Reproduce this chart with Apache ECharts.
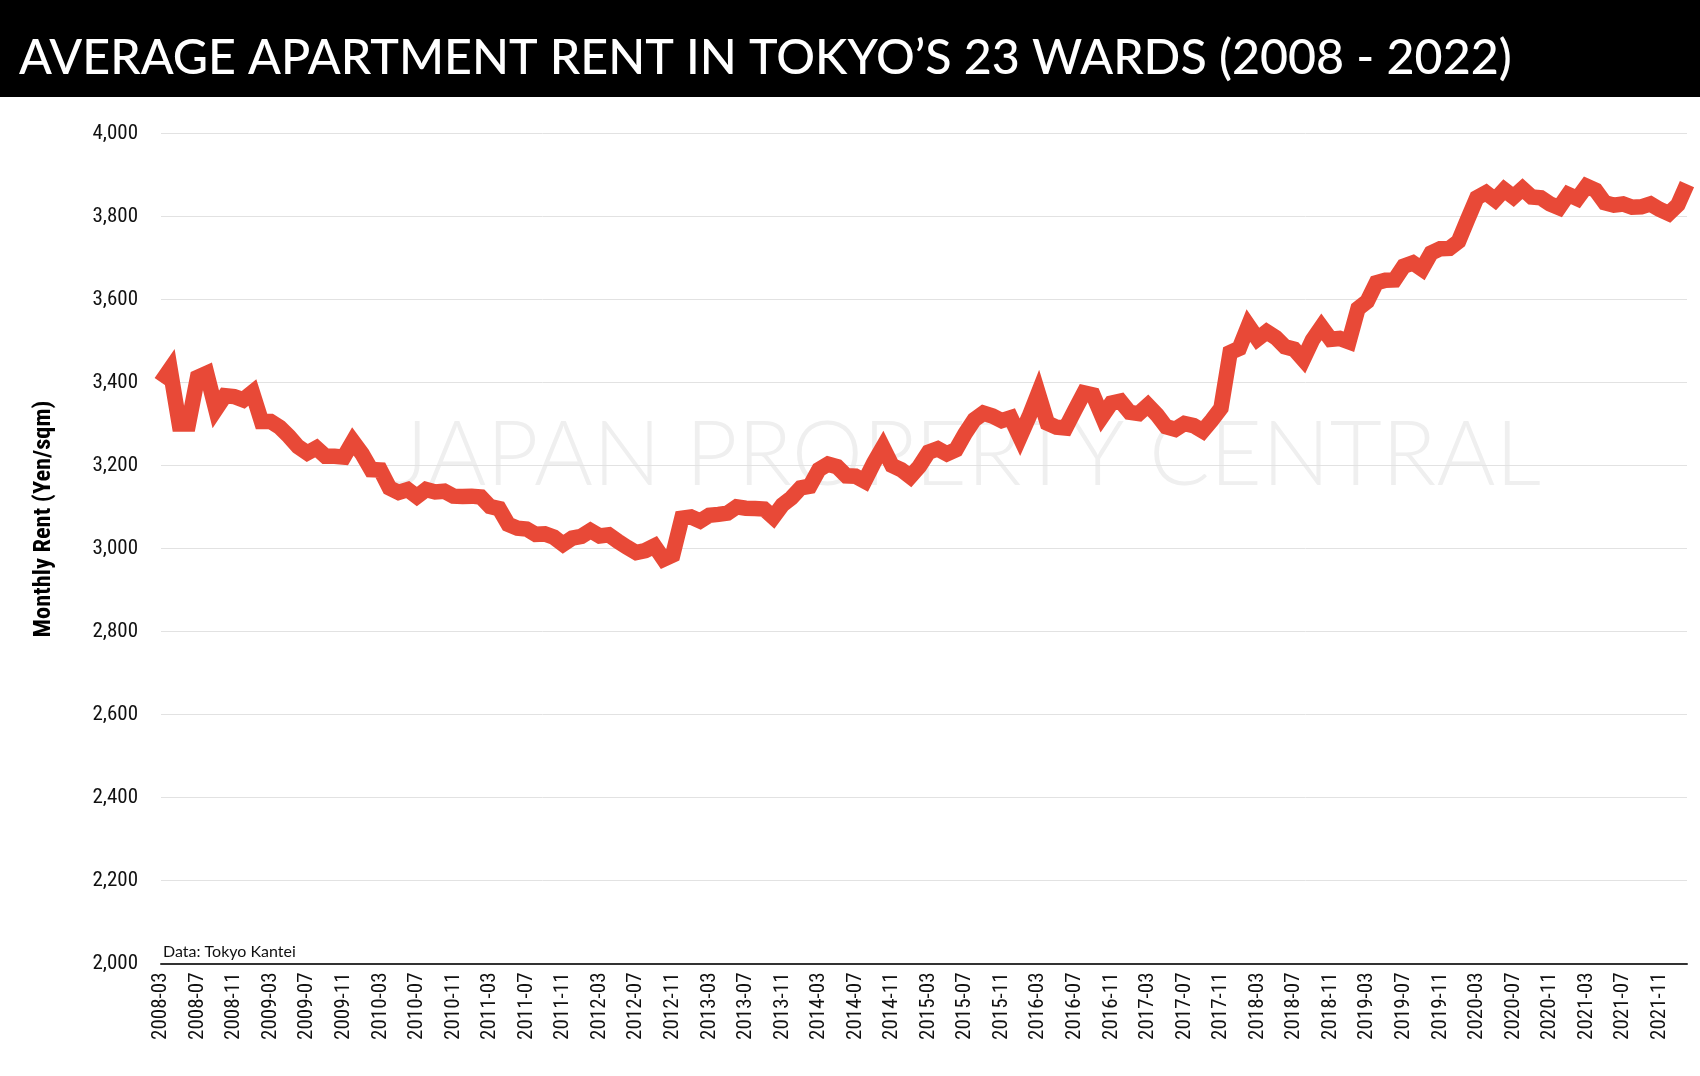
<!DOCTYPE html>
<html>
<head>
<meta charset="utf-8">
<script src="https://cdn.jsdelivr.net/npm/echarts@6/dist/echarts.min.js"></script>
<style>
html,body{margin:0;padding:0;background:#fff;}
#chart{width:1700px;height:1076px;}
</style>
</head>
<body>
<div id="chart"></div>
<script>
// ---- DATA ----
const startYear = 2008, startMonth = 3, monthCount = 168; // 2008-03 .. 2022-02
const months = [];
for (let k = 0; k < monthCount; k++) {
  const m = startMonth - 1 + k;
  const y = startYear + Math.floor(m / 12);
  const mm = (m % 12) + 1;
  months.push(y + '-' + (mm < 10 ? '0' + mm : mm));
}
const rent = [
  3400,3432,3300,3300,3412,3422,3335,3368,3366,3358,3376,3306,3306,3292,3270,3245,3230,3242,3222,3222,
  3220,3258,3228,3190,3189,3146,3135,3142,3125,3142,3136,3138,3126,3125,3126,3124,3101,3096,3058,3049,
  3047,3034,3035,3027,3010,3025,3029,3043,3030,3033,3017,3003,2990,2995,3006,2974,2984,3073,3076,3066,
  3080,3082,3085,3100,3097,3096,3095,3075,3105,3122,3146,3150,3190,3203,3197,3175,3174,3162,3206,3244,
  3200,3190,3173,3198,3232,3240,3228,3238,3277,3310,3326,3319,3308,3315,3268,3318,3374,3302,3292,3290,
  3333,3375,3370,3318,3350,3355,3328,3325,3345,3322,3293,3287,3301,3296,3283,3309,3338,3472,3482,3537,
  3505,3522,3508,3486,3480,3455,3502,3534,3504,3506,3498,3578,3595,3640,3646,3647,3680,3688,3673,3712,
  3722,3723,3740,3793,3845,3857,3840,3864,3847,3867,3847,3845,3830,3821,3853,3843,3873,3863,3833,3827,
  3830,3822,3823,3830,3817,3807,3828,3878
];
const yMin = 2000, yMax = 4000, yStep = 200;
const titleText = 'AVERAGE APARTMENT RENT IN TOKYO\u2019S 23 WARDS (2008 - 2022)';
const yName = 'Monthly Rent (Yen/sqm)';
const sourceText = 'Data: Tokyo Kantei';
const watermark = 'JAPAN PROPERTY CENTRAL';

// ---- font helpers ----
const cv = document.createElement('canvas').getContext('2d');
function w(font, t){ cv.font = font; return cv.measureText(t).width; }
function pick(cands, weight){
  const t = 'abcdefghijklmnopqrstuvwxyz0123456789';
  for (const f of cands){
    const a = w(weight + ' 40px "' + f + '", monospace', t);
    const b = w(weight + ' 40px monospace', t);
    const c = w(weight + ' 40px "' + f + '", serif', t);
    const d = w(weight + ' 40px serif', t);
    if (a !== b || c !== d) return f;
  }
  return 'sans-serif';
}
const condensed = pick(['Liberation Sans Narrow','Roboto Condensed','DejaVu Sans Condensed','Open Sans Condensed','Noto Sans'], 'normal');
const titleFont = 'Lato';
function fit(text, fam, weight, target){
  const base = w(weight + ' 100px "' + fam + '"', text);
  return 100 * target / base;
}
const titleSize = Math.min(62, fit(titleText, titleFont, '500', 1493));
const wmSize = fit(watermark, titleFont, '300', 1150);
const yNameSize = fit(yName, condensed, 'bold', 237);

const chart = echarts.init(document.getElementById('chart'), null, {renderer:'canvas'});
chart.setOption({
  animation: false,
  backgroundColor: '#ffffff',
  grid: { left: 161, right: 13, top: 133.4, bottom: 112.5, containLabel: false },
  xAxis: {
    type: 'category',
    data: months,
    boundaryGap: false,
    axisLine: { show: true, lineStyle: { color: '#333333', width: 2 } },
    axisTick: { show: false },
    splitLine: { show: false },
    axisLabel: {
      interval: 3, rotate: 90, margin: 9,
      fontFamily: condensed, fontSize: 21, color: '#111111'
    }
  },
  yAxis: {
    type: 'value',
    min: yMin, max: yMax, interval: yStep,
    axisLine: { show: false },
    axisTick: { show: false },
    splitLine: { lineStyle: { color: '#e2e2e2', width: 1 } },
    axisLabel: {
      margin: 23, fontFamily: condensed, fontSize: 21, color: '#111111',
      formatter: v => v.toLocaleString('en-US')
    }
  },
  graphic: [
    { type: 'rect', z: 0, shape: { x: 0, y: 0, width: 1700, height: 97 }, style: { fill: '#000000' } },
    { type: 'text', z: 1, style: { text: titleText, x: 19, y: 58, fill: '#ffffff',
        fontFamily: titleFont, fontWeight: 500, fontSize: titleSize, textAlign: 'left', textVerticalAlign: 'middle' } },
    { type: 'text', z: -1, silent: true, style: { text: watermark, x: 966, y: 456, fill: '#efefef',
        fontFamily: titleFont, fontWeight: 300, fontSize: wmSize, textAlign: 'center', textVerticalAlign: 'middle' } },
    { type: 'text', style: { text: sourceText, x: 163, y: 952, fill: '#111111',
        fontFamily: titleFont, fontSize: 16, textAlign: 'left', textVerticalAlign: 'middle' } },
    { type: 'text', rotation: Math.PI / 2, x: 44, y: 519, style: { text: yName, x: 0, y: 0, fill: '#000000',
        fontFamily: condensed, fontWeight: 'bold', fontSize: yNameSize, textAlign: 'center', textVerticalAlign: 'middle' } }
  ],
  series: [{
    type: 'line',
    data: rent,
    symbol: 'none',
    z: 5,
    lineStyle: { color: '#E84937', width: 15.5, join: 'miter', miterLimit: 10, cap: 'butt' }
  }]
});
</script>
</body>
</html>
